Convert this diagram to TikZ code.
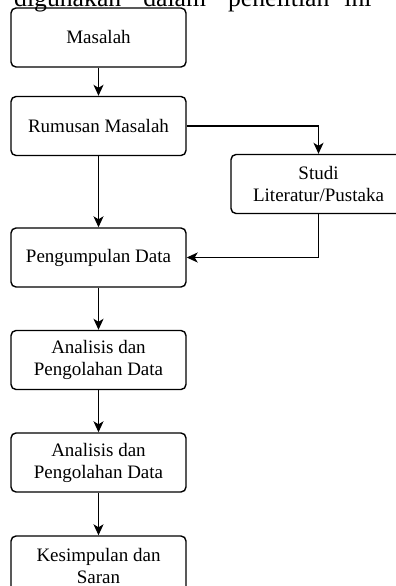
\documentclass[tikz,border=0pt]{standalone}
\usepackage{fontspec}
\setmainfont{Liberation Serif}
\usetikzlibrary{arrows.meta}
\tikzset{
  box/.style={draw=black, line width=1.4pt, rounded corners=5pt, minimum width=175pt, minimum height=59pt,
    inner sep=0pt, align=center, font=\fontsize{19}{22}\selectfont},
  conn/.style={draw=black, line width=1.4pt, -{Stealth[length=11pt,width=10pt,inset=3pt]}},
  cuttext/.style={font=\fontsize{25.7}{30}\selectfont, inner sep=0pt, anchor=base west}
}
\begin{document}
\begin{tikzpicture}[x=1pt,y=-1pt]
\useasboundingbox (0,0) rectangle (396,586);
\clip (0,0) rectangle (396,586);
\fill[white] (0,0) rectangle (396,586);
\node[cuttext] (top) at (14,7) {digunakan\hspace{22pt}dalam\hspace{22pt}penelitian\hspace{15pt}ini};
\node[box] (mas) at (98.5,37.5) {Masalah};
\node[box] (rum) at (98.5,126) {Rumusan Masalah};
\node[box] (stu) at (318.5,184) {Studi\\Literatur/Pustaka};
\node[box] (pen) at (98.5,257.5) {Pengumpulan Data};
\node[box] (an1) at (98.5,360) {Analisis dan\\Pengolahan Data};
\node[box] (an2) at (98.5,462.5) {Analisis dan\\Pengolahan Data};
\node[box] (kes) at (98.5,565.5) {Kesimpulan dan\\Saran};
\draw[conn] (mas) -- (rum);
\draw[conn] (rum.east) -| (stu.north);
\draw[conn] (rum) -- (pen);
\draw[conn] (stu.south) |- (pen.east);
\draw[conn] (pen) -- (an1);
\draw[conn] (an1) -- (an2);
\draw[conn] (an2) -- (kes);
\end{tikzpicture}
\end{document}
